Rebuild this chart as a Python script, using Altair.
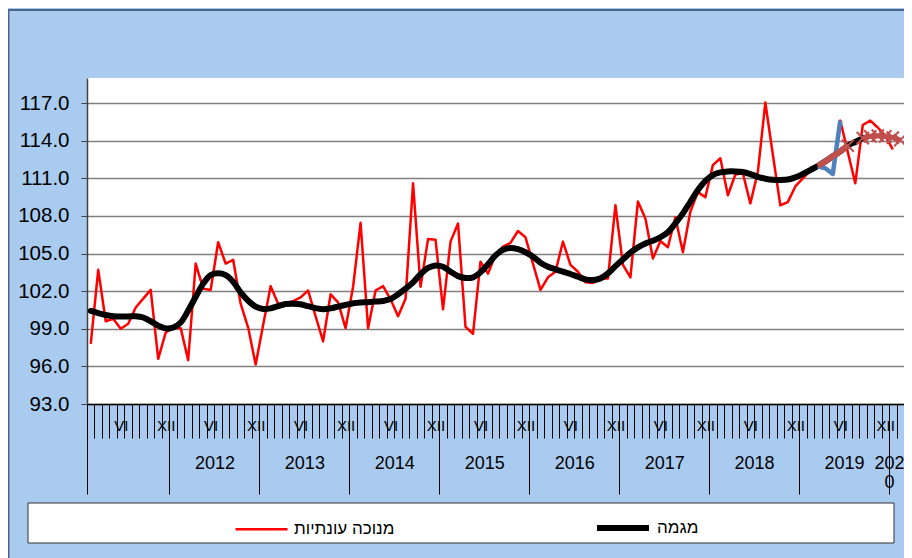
import altair as alt
import pandas as pd

FONT = "Liberation Sans, Arial, DejaVu Sans, sans-serif"

RED_NAME = "מנוכה עונתיות"
TREND_NAME = "מגמה"

START_YEAR = 2011
START_MONTH = 2
N_MONTHS = 109

# seasonally adjusted series (monthly, Feb 2011 ...)
RED = [
    97.8, 103.7, 99.6, 99.8, 99.0, 99.4, 100.7, 101.4, 102.1, 96.6,
    98.7, 99.1, 99.05, 96.5, 104.2, 102.2, 102.1, 105.9, 104.2, 104.5,
    101.0, 99.1, 96.15, 99.3, 102.4, 101.0, 101.05, 101.2, 101.5, 102.05,
    100.0, 98.0, 101.75, 101.1, 99.05, 102.35, 107.45, 99.05, 102.05, 102.4,
    101.35, 100.0, 101.4, 110.6, 102.35, 106.15, 106.1, 100.55, 105.95, 107.4,
    99.15, 98.6, 104.35, 103.4, 104.9, 105.55, 105.85, 106.8, 106.3, 104.2,
    102.1, 103.1, 103.55, 105.95, 104.1, 103.55, 102.7, 102.65, 103.0, 103.0,
    108.85, 104.1, 103.1, 109.15, 107.8, 104.6, 106.0, 105.5, 107.9, 105.1,
    108.35, 109.9, 109.5, 112.05, 112.6, 109.65, 111.3, 111.4, 109.0, 111.5,
    117.05, 112.9, 108.85, 109.1, 110.35, 111.0, 111.6, 111.9, 111.8, 111.35,
    115.6, 113.1, 110.6, 115.25, 115.6, 115.05, 114.4, 113.3,
]

# trend series
TREND = [
    100.42, 100.25, 100.1, 100.0, 99.97, 99.98, 100.0, 99.9, 99.6, 99.25,
    99.03, 99.1, 99.5, 100.45, 101.55, 102.6, 103.28, 103.42, 103.28, 102.75,
    101.9, 101.24, 100.77, 100.58, 100.63, 100.8, 100.97, 101.0, 100.95, 100.8,
    100.65, 100.55, 100.63, 100.77, 100.9, 101.03, 101.1, 101.12, 101.17, 101.22,
    101.37, 101.75, 102.2, 102.7, 103.35, 103.85, 104.05, 103.95, 103.55, 103.2,
    103.05, 103.1, 103.5, 104.15, 104.85, 105.3, 105.45, 105.35, 105.1, 104.75,
    104.27, 103.95, 103.74, 103.55, 103.37, 103.15, 102.94, 102.89, 103.02, 103.42,
    104.0, 104.53, 105.07, 105.49, 105.8, 106.02, 106.3, 106.7, 107.4, 108.2,
    109.13, 110.06, 110.8, 111.26, 111.47, 111.55, 111.55, 111.5, 111.34, 111.12,
    110.97, 110.88, 110.86, 110.9, 111.07, 111.34, 111.66, 111.98, 112.35, 112.75,
    113.15, 113.6, 113.9, 114.2,
]

BLUE_START = 97
BLUE = [111.95, 111.8, 111.35, 115.6]

BROWN_A_START = 97
BROWN_A = [111.98, 112.35, 112.75, 113.15, 113.6]

BROWN_B_START = 103
BROWN_B = [114.2, 114.35, 114.4, 114.35, 114.25, 114.05]

MARKER_IDX = [101, 103, 104, 105, 106, 107, 108]

Y_TICKS = [93, 96, 99, 102, 105, 108, 111, 114, 117]
Y_DOMAIN = [93, 119]

ROMAN = {6: "VI", 12: "XII"}
YEAR_TEXT = {2012: "2012", 2013: "2013", 2014: "2014", 2015: "2015",
             2016: "2016", 2017: "2017", 2018: "2018", 2019: "2019",
             2020: ["202", "0"]}

# ---- derived category structure ----
months = [(START_MONTH - 1 + i) % 12 + 1 for i in range(N_MONTHS)]
years = [START_YEAR + (START_MONTH - 1 + i) // 12 for i in range(N_MONTHS)]

roman_pos = [i + 0.5 for i, m in enumerate(months) if m in ROMAN]
roman_expr = "''"
for i, m in reversed(list(enumerate(months))):
    if m in ROMAN:
        roman_expr = f"datum.value == {i + 0.5} ? '{ROMAN[m]}' : ({roman_expr})"

boundaries = [0] + [i for i in range(1, N_MONTHS) if months[i] == 1] + [N_MONTHS]
year_centers = []
year_expr = "''"
for y, txt in YEAR_TEXT.items():
    idx = [i for i in range(N_MONTHS) if years[i] == y]
    c = min((idx[0] + idx[-1] + 1) / 2, N_MONTHS - 2.0)  # keep the last (wrapped) label inside
    year_centers.append(c)
    t = "[" + ",".join(f"'{s}'" for s in txt) + "]" if isinstance(txt, list) else f"'{txt}'"
    year_expr = f"datum.value == {c} ? {t} : ({year_expr})"


def frame(vals, start, name=None):
    d = pd.DataFrame({"pos": [start + k + 0.5 for k in range(len(vals))], "value": vals})
    if name is not None:
        d["series"] = name
    return d


df_red = frame(RED, 0, RED_NAME)
df_trend = frame(TREND, 0, TREND_NAME)
df_blue = frame(BLUE, BLUE_START)
df_ba = frame(BROWN_A, BROWN_A_START)
df_bb = frame(BROWN_B, BROWN_B_START)
brown_all = {BROWN_A_START + k: v for k, v in enumerate(BROWN_A)}
brown_all.update({BROWN_B_START + k: v for k, v in enumerate(BROWN_B)})
df_mk = pd.DataFrame({"pos": [i + 0.5 for i in MARKER_IDX], "value": [brown_all[i] for i in MARKER_IDX]})

x_scale = alt.Scale(domain=[0, N_MONTHS], nice=False, zero=False)
y_scale = alt.Scale(domain=Y_DOMAIN, nice=False, zero=False)

axis_months = alt.Axis(orient="bottom", values=[float(b) for b in range(N_MONTHS + 1)],
                       tickSize=34, tickColor="black", tickWidth=1, labels=False,
                       grid=False, domain=True, domainColor="black", domainWidth=1.5, title=None)
axis_roman = alt.Axis(orient="bottom", values=roman_pos, labelExpr=roman_expr, ticks=False,
                      tickSize=0, domain=False, grid=False, labelFontSize=15, labelFont=FONT,
                      labelColor="black", labelPadding=21, labelBaseline="middle",
                      labelOverlap=False, labelFlush=False, title=None)
axis_years = alt.Axis(orient="bottom", values=year_centers, labelExpr=year_expr, ticks=False,
                      tickSize=0, domain=False, grid=False, labelFontSize=18, labelFont=FONT,
                      labelColor="black", labelPadding=50, labelBaseline="top",
                      labelLineHeight=19, labelOverlap=False, labelFlush=False, title=None)
axis_ydiv = alt.Axis(orient="bottom", values=[float(b) for b in boundaries], tickSize=90,
                     tickColor="black", tickWidth=1, labels=False, domain=False, grid=False,
                     title=None)
y_axis = alt.Axis(orient="left", values=Y_TICKS, format=".1f", grid=True, gridColor="#808080",
                  gridWidth=1.5, tickSize=6, tickColor="#404040", domain=True,
                  domainColor="#404040", domainWidth=1.5, labelFontSize=20.5, labelFont=FONT,
                  labelColor="black", labelPadding=12, title=None)


def X(axis):
    return alt.X("pos:Q", scale=x_scale, axis=axis)


def Y(axis=None):
    return alt.Y("value:Q", scale=y_scale, axis=axis)


legend = alt.Legend(orient="none", legendX=147, legendY=421, direction="horizontal", title=None,
                    symbolType="stroke", symbolSize=2704, labelFontSize=17, labelFont=FONT,
                    labelColor="black", columnPadding=190, labelOffset=5, padding=0)
color = alt.Color("series:N", scale=alt.Scale(domain=[RED_NAME, TREND_NAME],
                                               range=["#FF0000", "#000000"]), legend=legend)
swidth = alt.StrokeWidth("series:N", scale=alt.Scale(type="ordinal", domain=[RED_NAME, TREND_NAME],
                                                      range=[2.5, 6]), legend=legend)

one = alt.Data(values=[{"k": 0}])
border = alt.Chart(one).mark_rect(filled=False, stroke="#4A6585", strokeWidth=2).encode(
    x=alt.value(-78.5), x2=alt.value(840), y=alt.value(-68), y2=alt.value(490))
legend_box = alt.Chart(one).mark_rect(fill="white", stroke="#333333", strokeWidth=1).encode(
    x=alt.value(-59), x2=alt.value(807), y=alt.value(425), y2=alt.value(465))

red = alt.Chart(df_red).mark_line(strokeJoin="round").encode(
    x=X(axis_months), y=Y(y_axis), color=color, strokeWidth=swidth)
trend = alt.Chart(df_trend).mark_line(interpolate="catmull-rom", strokeCap="round").encode(
    x=X(axis_roman), y=Y(), color=color, strokeWidth=swidth)
blue = alt.Chart(df_blue).mark_line(color="#4F81BD", strokeWidth=4.5, strokeJoin="round").encode(
    x=X(axis_years), y=Y())
brown_a = alt.Chart(df_ba).mark_line(color="#C0504D", strokeWidth=6).encode(x=X(axis_ydiv), y=Y())
brown_b = alt.Chart(df_bb).mark_line(color="#C0504D", strokeWidth=5).encode(x=X(None), y=Y())
marks = alt.Chart(df_mk).mark_point(shape="M-1,-1L1,1M1,-1L-1,1", filled=False, color="#C0504D",
                                    strokeWidth=2, size=150, opacity=1).encode(x=X(None), y=Y())

chart = alt.layer(border, legend_box, red, trend, blue, brown_a, brown_b, marks).resolve_axis(
    x="independent", y="independent"
).properties(
    width=817, height=326,
    padding={"left": 79, "top": 70, "right": 0, "bottom": 154},
    autosize=alt.AutoSizeParams(type="none"),
).configure(background="#A9CBF0", font=FONT).configure_view(fill="white", strokeWidth=0)

chart.save("out.html", embed_options={"renderer": "svg", "actions": False})
